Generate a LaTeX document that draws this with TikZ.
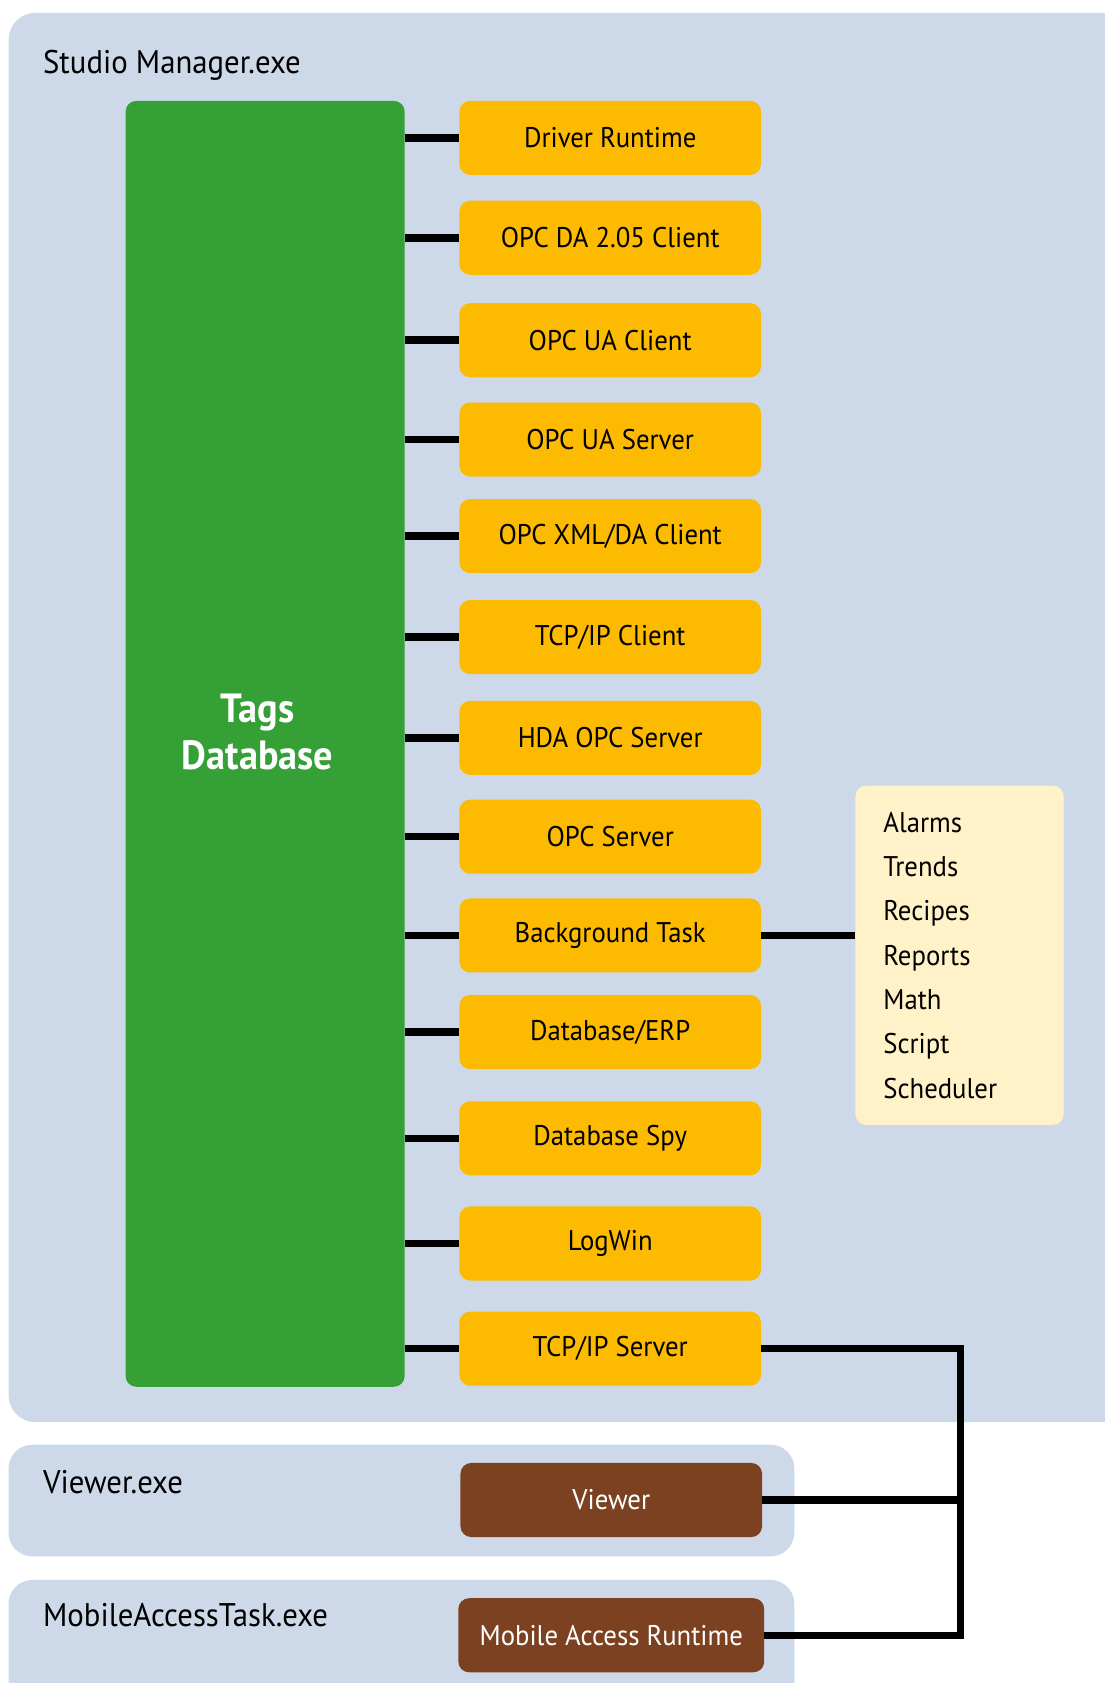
\documentclass[tikz,border=0pt]{standalone}
\usepackage{fontspec}
\setmainfont{PT Sans}[FakeStretch=0.94]
\definecolor{panelblue}{RGB}{205,217,232}
\definecolor{tagsgreen}{RGB}{52,160,53}
\definecolor{modorange}{RGB}{252,187,0}
\definecolor{listyellow}{RGB}{255,242,200}
\definecolor{viewbrown}{RGB}{123,65,32}
\begin{document}
\begin{tikzpicture}[x=1pt,y=-1pt,
  panel/.style={fill=panelblue, rounded corners=25pt},
  paneltitle/.style={anchor=west, inner sep=0pt, font=\fontsize{30.5}{34}\selectfont},
  obox/.style={fill=modorange, rounded corners=10pt, minimum width=281pt, minimum height=69pt, inner sep=0pt, font=\fontsize{26.5}{30}\selectfont},
  bbox/.style={fill=viewbrown, text=white, rounded corners=10pt, minimum height=69pt, inner sep=0pt, font=\fontsize{26.5}{30}\selectfont},
  conn/.style={line width=7pt}]
\useasboundingbox (0,0) rectangle (1029,1568);
% panels
\fill[panel] (8,12) rectangle (1080,1325);
\fill[panel, rounded corners=22pt] (8,1346) rectangle (740,1450);
\fill[panel, rounded corners=22pt] (8,1472) rectangle (740,1610);
\node[paneltitle] (tstudio) at (40,61) {Studio Manager.exe};
\node[paneltitle] (tviewer) at (40,1381) {Viewer.exe};
\node[paneltitle] (tmobile) at (40,1505) {MobileAccessTask.exe};
% tags database
\node[fill=tagsgreen, rounded corners=10pt, minimum width=260pt, minimum height=1198pt, inner sep=0pt] (tags) at (247,693) {};
\node[text=white, align=center, font=\bfseries\fontsize{38}{44}\selectfont] (tagstext) at (240,682) {Tags\\Database};
% modules
\node[obox] (n1) at (568.5,128.5) {Driver Runtime};
\node[obox] (n2) at (568.5,221.5) {OPC DA 2.05 Client};
\node[obox] (n3) at (568.5,317) {OPC UA Client};
\node[obox] (n4) at (568.5,409.5) {OPC UA Server};
\node[obox] (n5) at (568.5,499.5) {OPC XML/DA Client};
\node[obox] (n6) at (568.5,593.5) {TCP/IP Client};
\node[obox] (n7) at (568.5,687.5) {HDA OPC Server};
\node[obox] (n8) at (568.5,779.5) {OPC Server};
\node[obox] (n9) at (568.5,871.5) {Background Task};
\node[obox] (n10) at (568.5,961.5) {Database/ERP};
\node[obox] (n11) at (568.5,1060.5) {Database Spy};
\node[obox] (n12) at (568.5,1158.5) {LogWin};
\node[obox] (n13) at (568.5,1256.5) {TCP/IP Server};
\foreach \i in {1,...,13} {\draw[conn] (tags.east |- n\i) -- (n\i.west);}
% list box
\node[fill=listyellow, rounded corners=10pt, minimum height=316pt, text width=142pt, inner xsep=26pt, inner ysep=0pt, align=left, font=\fontsize{26.5}{41.3}\selectfont] (list) at (894,890) {Alarms\\Trends\\Recipes\\Reports\\Math\\Script\\Scheduler};
\draw[conn] (n9.east) -- (list.west |- n9);
% viewer / mobile
\node[bbox, minimum width=281pt] (viewer) at (569.5,1397.5) {Viewer};
\node[bbox, minimum width=285pt] (mobile) at (569.5,1523.5) {Mobile Access Runtime};
\coordinate (bus) at (895,0);
\draw[conn, line join=miter] (n13.east) -| (bus |- mobile.east) -- (mobile.east);
\draw[conn] (viewer.east) -- (bus |- viewer.east);
\end{tikzpicture}
\end{document}
